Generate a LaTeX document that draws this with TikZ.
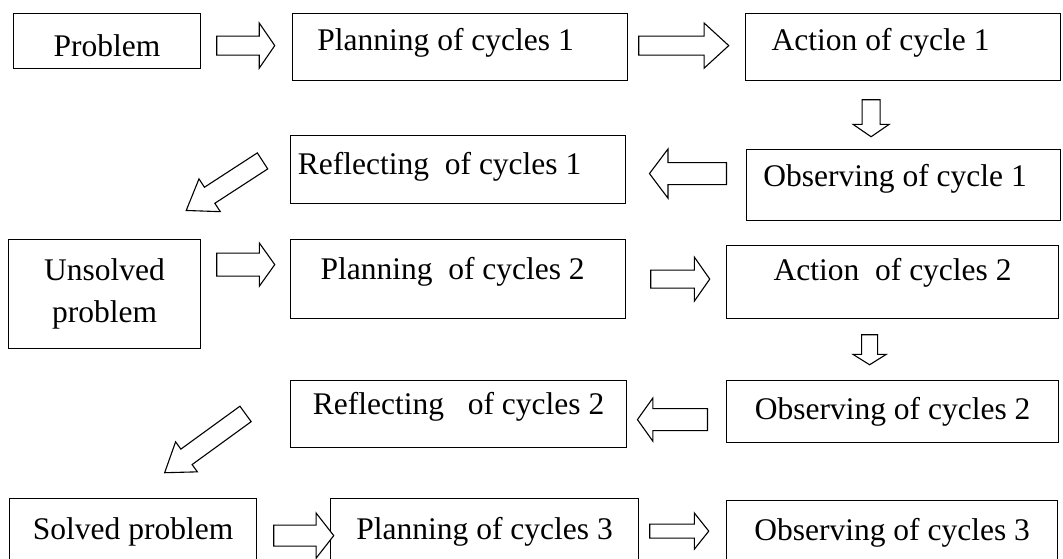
\documentclass[tikz,border=0pt]{standalone}
\usepackage{fontspec}
\setmainfont{Liberation Serif}
\usepackage{tikz}
\usetikzlibrary{positioning,calc,shapes.arrows}

\tikzset{
  stage/.style={draw, line width=1.2pt, rectangle, anchor=north west, inner sep=3pt,
    font=\fontsize{31.5}{42}\selectfont},
  lift/.style={text height=22pt, text depth=#1},
  fat/.style n args={4}{single arrow, draw, line width=1.1pt, fill=white, inner sep=0pt,
    inner ysep=#1, single arrow head extend=#2, minimum height=#3,
    single arrow tip angle=#4, single arrow head indent=0pt, anchor=tail},
  pushleft/.style={execute at end node={\hspace*{#1}}}
}

\begin{document}
\begin{tikzpicture}[x=1pt, y=-1pt]
    \clip (0,0) rectangle (1063,558);

    % cycle 1
    \node[stage, minimum width=187pt, minimum height=55pt, text height=30pt, text depth=0pt] (prob) at (13,13) {Problem};
    \node[stage, minimum width=335pt, minimum height=67pt, pushleft=29pt, lift=15pt] (plan1) at (292,13) {Planning of cycles 1};
    \node[stage, minimum width=315pt, minimum height=67pt, pushleft=45pt, lift=15pt] (act1) at (745,13) {Action of cycle 1};
    \node[stage, minimum width=314pt, minimum height=71pt, pushleft=17pt, lift=19pt] (obs1) at (746,149) {Observing of cycle 1};
    \node[stage, minimum width=335pt, minimum height=68pt, pushleft=37pt, lift=13pt] (refl1) at (290,135) {Reflecting\ \ of cycles 1};

    % cycle 2
    \node[stage, minimum width=192pt, minimum height=109pt, align=center] (unsol) at (8,239) {Unsolved\\problem};
    \node[stage, minimum width=335pt, minimum height=79pt, pushleft=11pt, lift=21pt] (plan2) at (290,239) {Planning\ \ of cycles 2};
    \node[stage, minimum width=332pt, minimum height=73pt, lift=25pt] (act2) at (726,245) {Action\ \ of cycles 2};
    \node[stage, minimum width=332pt, minimum height=62pt] (obs2) at (726,380) {Observing of cycles 2};
    \node[stage, minimum width=336pt, minimum height=67pt, lift=21pt] (refl2) at (290,380) {Reflecting\ \ \ of cycles 2};

    % cycle 3
    \node[stage, minimum width=247pt, minimum height=66pt] (solved) at (9,498) {Solved problem};
    \node[stage, minimum width=308pt, minimum height=66pt] (plan3) at (330,498) {Planning of cycles 3};
    \node[stage, minimum width=331pt, minimum height=64pt] (obs3) at (726,500) {Observing of cycles 3};

    % block arrows, placed by their tails
    \node[fat={9pt}{13pt}{58pt}{111}] (a1) at ($(prob.east)+(15,4.5)$) {};
    \node[fat={9pt}{13pt}{90pt}{85}] (a2) at ($(plan1.east)+(10,-1.5)$) {};
    \node[fat={8.5pt}{9pt}{37pt}{111}, rotate=-90] (d1) at ($(act1.south)+(-32,18)$) {};
    \node[fat={10.5pt}{13.5pt}{77pt}{106}, rotate=180] (l1) at ($(obs1.west)+(-19,-11.5)$) {};
    \node[fat={9pt}{10pt}{91pt}{70}, rotate=213] (g1) at ($(refl1.west)+(-27,-9)$) {};
    \node[fat={11pt}{10pt}{58pt}{109}] (a3) at ($(unsol.east)+(15,-29.5)$) {};
    \node[fat={8.5pt}{13pt}{59pt}{110}] (a4) at ($(plan2.east)+(24,0)$) {};
    \node[fat={7.5pt}{8.5pt}{30pt}{116}, rotate=-90] (d2) at ($(act2.south)+(-23,15)$) {};
    \node[fat={10.5pt}{10.5pt}{70pt}{109}, rotate=180] (l2) at ($(obs2.west)+(-18,8)$) {};
    \node[fat={9pt}{9pt}{100pt}{69}, rotate=216] (g2) at ($(refl2.west)+(-44,-0.5)$) {};
    \node[fat={10pt}{12pt}{60pt}{104}] (a5) at ($(solved.east)+(16,4)$) {};
    \node[fat={6.5pt}{11pt}{59pt}{103}] (a6) at ($(plan3.east)+(10,-0.5)$) {};

\end{tikzpicture}
\end{document}
